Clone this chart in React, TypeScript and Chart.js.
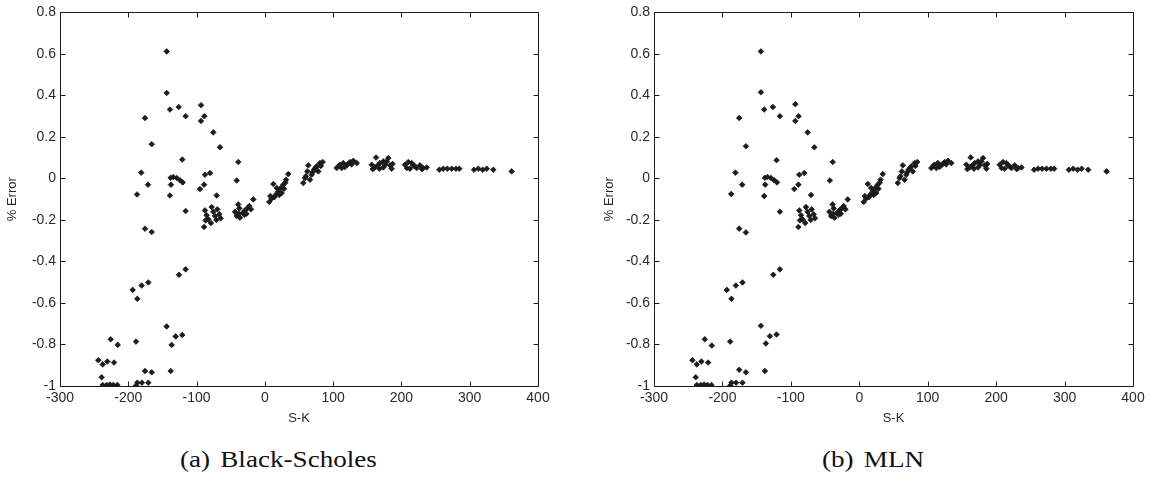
import React, { useEffect, useRef } from 'react';
import { Chart, registerables } from 'chart.js';

Chart.register(...registerables);

// ---- Data ----
const xTickValues = [-300, -200, -100, 0, 100, 200, 300, 400];
const yTickValues = [-1, -0.8, -0.6, -0.4, -0.2, 0, 0.2, 0.4, 0.6, 0.8];

// (a) Black-Scholes : S-K values
const bsSK = [
  -143.8, -143.8, -139, -126.2, -116, -93.5, -88.7, -93.5, -75.5, -65.7,
  -175.5, -165.7, -120.9, -181, -171.1, -187.2, -139, -137.5, -137.9, -134.1,
  -129.1, -124.3, -120.3, -116, -95, -89, -87.7, -80.3, -70.5, -41.2,
  -38.9, -175.5, -165.7,
  -89, -87.7, -85.2, -82.8, -86.7, -77.9, -75.5, -73, -69.6, -66.7, -64.7, -79, -71,
  -43.7, -41.2, -37.4, -36.4, -32.5, -29.1, -25.7, -22.8, -16.9, -20.3, -38, -27, -39, -30,
  6.5, 10, 12.4, 16.3, 19.7, 23.2, 27, 31, 34.3, 24.6, 17.3, 8, 14, 21, 28, 30,
  56.3, 58.8, 62.2, 63.6, 68.6, 72, 75.9, 80.7, 84.7, 66.1, 78.3, 60, 70, 74, 82,
  105.2, 110, 114.9, 119.8, 124.7, 129.5, 134.5, 112.5, 117, 127, 108, 122,
  162.8, 156.5, 161.3, 168.6, 173.5, 178.4, 183.3, 185.7, 167.6, 180.8, 173.5, 158, 165, 176, 187,
  205.2, 210, 212.5, 217.4, 222.3, 227.2, 232, 237, 215, 208, 220, 230,
  255.5, 261.3, 267.2, 273.6, 279.9, 284.7,
  306.3, 312.6, 319, 324.9, 334.5,
  361.4,
  -125.7, -116, -193.6, -186.8, -180.4, -170.7, -143.8, -136.5, -130.6, -120.9,
  -225.8, -215.5, -188.7, -243.9, -237.5, -230.7, -220.9, -239, -175.5, -165.7, -137.9,
  -237.5, -231.6, -226.8, -221.9, -216, -188.7, -186.8, -180, -170.7,
];
// (a) Black-Scholes : % Error values
const bsErr = [
  0.612, 0.412, 0.332, 0.344, 0.3, 0.353, 0.3, 0.277, 0.222, 0.15,
  0.291, 0.165, 0.091, 0.028, -0.03, -0.077, -0.082, -0.03, 0.003, 0.007,
  0.002, -0.009, -0.019, -0.157, -0.051, -0.03, 0.018, 0.026, -0.082, -0.01,
  0.079, -0.242, -0.258,
  -0.234, -0.154, -0.177, -0.197, -0.202, -0.138, -0.161, -0.181, -0.149, -0.173, -0.192, -0.215, -0.2,
  -0.161, -0.181, -0.144, -0.189, -0.166, -0.154, -0.144, -0.133, -0.101, -0.149, -0.17, -0.17, -0.125, -0.175,
  -0.113, -0.097, -0.027, -0.077, -0.062, -0.046, -0.03, -0.006, 0.021, -0.07, -0.046, -0.085, -0.09, -0.08, -0.05, -0.02,
  -0.022, 0.002, 0.034, 0.063, 0.018, 0.042, 0.058, 0.074, 0.079, -0.006, 0.034, 0.01, 0.03, 0.05, 0.06,
  0.05, 0.066, 0.074, 0.063, 0.079, 0.085, 0.074, 0.05, 0.055, 0.068, 0.06, 0.07,
  0.101, 0.066, 0.053, 0.074, 0.053, 0.082, 0.063, 0.047, 0.047, 0.098, 0.082, 0.045, 0.062, 0.065, 0.07,
  0.066, 0.079, 0.047, 0.063, 0.05, 0.063, 0.05, 0.053, 0.074, 0.05, 0.058, 0.045,
  0.042, 0.047, 0.047, 0.047, 0.047, 0.047,
  0.042, 0.047, 0.042, 0.047, 0.042,
  0.034,
  -0.464, -0.438, -0.537, -0.58, -0.516, -0.501, -0.713, -0.802, -0.761, -0.754,
  -0.775, -0.802, -0.786, -0.876, -0.896, -0.882, -0.887, -0.958, -0.928, -0.934, -0.928,
  -0.995, -0.995, -0.993, -0.995, -0.995, -0.998, -0.984, -0.984, -0.984,
];

// (b) MLN : S-K values
const mlnSK = [
  -143.8, -143.8, -139, -126.2, -116, -93.5, -88.7, -93.5, -75.5, -65.7,
  -175.5, -165.7, -120.9, -181, -171.1, -187.2, -139, -137.5, -137.9, -134.1,
  -129.1, -124.3, -120.3, -116, -95, -89, -87.7, -80.3, -70.5, -43,
  -38.9, -175.5, -165.7,
  -89, -87.7, -85.2, -82.8, -86.7, -77.9, -75.5, -73, -69.6, -66.7, -64.7, -79, -71,
  -43.7, -41.2, -37.4, -36.4, -32.5, -29.1, -25.7, -22.8, -16.9, -20.3, -38, -27, -39, -30,
  6.5, 10, 12.4, 16.3, 19.7, 23.2, 27, 31, 34.3, 24.6, 17.3, 8, 14, 21, 28, 30,
  56.3, 58.8, 62.2, 63.6, 68.6, 72, 75.9, 80.7, 84.7, 66.1, 78.3, 60, 70, 74, 82,
  105.2, 110, 114.9, 119.8, 124.7, 129.5, 134.5, 112.5, 117, 127, 108, 122,
  162.8, 156.5, 161.3, 168.6, 173.5, 178.4, 183.3, 185.7, 167.6, 180.8, 173.5, 158, 165, 176, 187,
  205.2, 210, 212.5, 217.4, 222.3, 227.2, 232, 237, 215, 208, 220, 230,
  255.5, 261.3, 267.2, 273.6, 279.9, 284.7,
  306.3, 312.6, 319, 324.9, 334.5,
  361.4,
  -125.7, -116, -193.6, -186.8, -180.4, -170.7, -143.8, -136.5, -130.6, -120.9,
  -225.8, -215.5, -188.7, -243.9, -237.5, -230.7, -220.9, -239, -175.5, -165.7, -137.9,
  -237.5, -231.6, -226.8, -221.9, -216, -188.7, -186.8, -180, -170.7,
];
// (b) MLN : % Error values
const mlnErr = [
  0.612, 0.415, 0.332, 0.344, 0.3, 0.358, 0.3, 0.277, 0.222, 0.15,
  0.291, 0.155, 0.088, 0.028, -0.03, -0.075, -0.085, -0.03, 0.003, 0.007,
  0.002, -0.009, -0.019, -0.16, -0.051, -0.03, 0.018, 0.026, -0.08, -0.01,
  0.079, -0.242, -0.26,
  -0.234, -0.154, -0.177, -0.197, -0.202, -0.138, -0.161, -0.181, -0.149, -0.173, -0.192, -0.215, -0.2,
  -0.161, -0.181, -0.144, -0.189, -0.166, -0.154, -0.144, -0.133, -0.101, -0.149, -0.17, -0.17, -0.125, -0.175,
  -0.113, -0.097, -0.027, -0.077, -0.062, -0.046, -0.03, -0.006, 0.021, -0.07, -0.046, -0.085, -0.09, -0.08, -0.05, -0.02,
  -0.022, 0.002, 0.034, 0.063, 0.018, 0.042, 0.058, 0.074, 0.079, -0.006, 0.034, 0.01, 0.03, 0.05, 0.06,
  0.05, 0.066, 0.074, 0.063, 0.079, 0.085, 0.074, 0.05, 0.055, 0.068, 0.06, 0.07,
  0.101, 0.066, 0.053, 0.074, 0.053, 0.082, 0.063, 0.047, 0.047, 0.098, 0.082, 0.045, 0.062, 0.065, 0.07,
  0.066, 0.079, 0.047, 0.063, 0.05, 0.063, 0.05, 0.053, 0.074, 0.05, 0.058, 0.045,
  0.042, 0.047, 0.047, 0.047, 0.047, 0.047,
  0.042, 0.047, 0.042, 0.047, 0.042,
  0.034,
  -0.464, -0.438, -0.537, -0.58, -0.516, -0.501, -0.71, -0.795, -0.76, -0.752,
  -0.775, -0.805, -0.786, -0.876, -0.896, -0.882, -0.887, -0.958, -0.922, -0.934, -0.928,
  -0.995, -0.995, -0.993, -0.995, -0.995, -0.998, -0.984, -0.984, -0.984,
];

const INK = '#1c1c1c';
const TEXT = '#2a2a2a';
const TICK_FONT = { family: "'Liberation Sans', Arial, sans-serif", size: 14 };
const TITLE_FONT = { family: "'Liberation Sans', Arial, sans-serif", size: 13 };

const boxTicks = {
  id: 'boxTicks',
  afterDraw(chart: any) {
    const { ctx, chartArea } = chart;
    const sx = chart.scales.x;
    const sy = chart.scales.y;
    const L = Math.round(chartArea.left) + 0.5;
    const R = Math.round(chartArea.right) + 0.5;
    const T = Math.round(chartArea.top) + 0.5;
    const B = Math.round(chartArea.bottom) + 0.5;
    const len = 5;
    ctx.save();
    ctx.strokeStyle = INK;
    ctx.lineWidth = 1;
    ctx.beginPath();
    ctx.rect(L, T, R - L, B - T);
    for (const t of sx.ticks) {
      const px = Math.round(sx.getPixelForValue(t.value)) + 0.5;
      ctx.moveTo(px, B);
      ctx.lineTo(px, B - len);
      ctx.moveTo(px, T);
      ctx.lineTo(px, T + len);
    }
    for (const t of sy.ticks) {
      const py = Math.round(sy.getPixelForValue(t.value)) + 0.5;
      ctx.moveTo(L, py);
      ctx.lineTo(L + len, py);
      ctx.moveTo(R, py);
      ctx.lineTo(R - len, py);
    }
    ctx.stroke();
    ctx.restore();
  },
};

function makeChart(
  canvas: HTMLCanvasElement,
  xs: number[],
  ys: number[],
  pad: { left: number; right: number; top: number; bottom: number },
  yWidth: number
) {
  const data = xs.map((x, i) => ({ x, y: ys[i] }));
  return new Chart(canvas, {
    type: 'scatter',
    data: {
      datasets: [
        {
          data,
          pointStyle: 'rectRot',
          pointRadius: 2.8,
          pointBackgroundColor: INK,
          pointBorderColor: INK,
          pointBorderWidth: 0.8,
          pointHoverRadius: 2.8,
          clip: 0,
        } as any,
      ],
    },
    options: {
      responsive: false,
      animation: false,
      events: [],
      layout: { padding: pad },
      plugins: {
        legend: { display: false },
        tooltip: { enabled: false },
        title: { display: false },
      },
      scales: {
        x: {
          type: 'linear',
          min: -300,
          max: 400,
          afterBuildTicks: (scale: any) => {
            scale.ticks = xTickValues.map((v) => ({ value: v }));
          },
          afterFit: (scale: any) => {
            scale.height = 40;
          },
          ticks: {
            font: TICK_FONT,
            color: TEXT,
            padding: 4,
            maxRotation: 0,
            autoSkip: false,
            callback: (v: any) => String(v),
          },
          grid: { display: false, drawTicks: false },
          border: { display: false },
          title: {
            display: true,
            text: 'S-K',
            font: TITLE_FONT,
            color: TEXT,
            padding: { top: 0, bottom: 0 },
          },
        },
        y: {
          type: 'linear',
          min: -1,
          max: 0.8,
          afterBuildTicks: (scale: any) => {
            scale.ticks = yTickValues.map((v) => ({ value: v }));
          },
          afterFit: (scale: any) => {
            scale.width = yWidth;
          },
          ticks: {
            font: TICK_FONT,
            color: TEXT,
            padding: 4,
            autoSkip: false,
            callback: (v: any) => String(v),
          },
          grid: { display: false, drawTicks: false },
          border: { display: false },
          title: {
            display: true,
            text: '% Error',
            font: TITLE_FONT,
            color: TEXT,
            padding: { top: 4.5, bottom: 0 },
          },
        },
      },
    },
    plugins: [boxTicks],
  } as any);
}

export default function App() {
  const leftRef = useRef<HTMLCanvasElement>(null);
  const rightRef = useRef<HTMLCanvasElement>(null);

  useEffect(() => {
    const a = makeChart(leftRef.current!, bsSK, bsErr, { left: 0, right: 37, top: 10, bottom: 14 }, 60);
    const b = makeChart(rightRef.current!, mlnSK, mlnErr, { left: 22, right: 17, top: 10, bottom: 14 }, 57);
    return () => {
      a.destroy();
      b.destroy();
    };
  }, []);

  const capStyle: React.CSSProperties = {
    position: 'absolute',
    top: 443,
    height: 32,
    lineHeight: '32px',
    fontFamily: "'Liberation Serif', 'Times New Roman', serif",
    fontSize: 24,
    color: '#111',
    whiteSpace: 'nowrap',
    transform: 'scaleX(1.13)',
    transformOrigin: 'left center',
  };

  return (
    <div style={{ position: 'absolute', left: 0, top: 0, width: 1150, height: 479, background: '#fff', overflow: 'hidden' }}>
      <canvas ref={leftRef} width={575} height={440} style={{ position: 'absolute', left: 0, top: 0, width: 575, height: 440 }} />
      <canvas ref={rightRef} width={575} height={440} style={{ position: 'absolute', left: 575, top: 0, width: 575, height: 440 }} />
      <div style={{ ...capStyle, left: 180 }}>
        <span>(a)</span>
        <span style={{ marginLeft: 9 }}>Black-Scholes</span>
      </div>
      <div style={{ ...capStyle, left: 822 }}>
        <span>(b)</span>
        <span style={{ marginLeft: 9 }}>MLN</span>
      </div>
    </div>
  );
}
